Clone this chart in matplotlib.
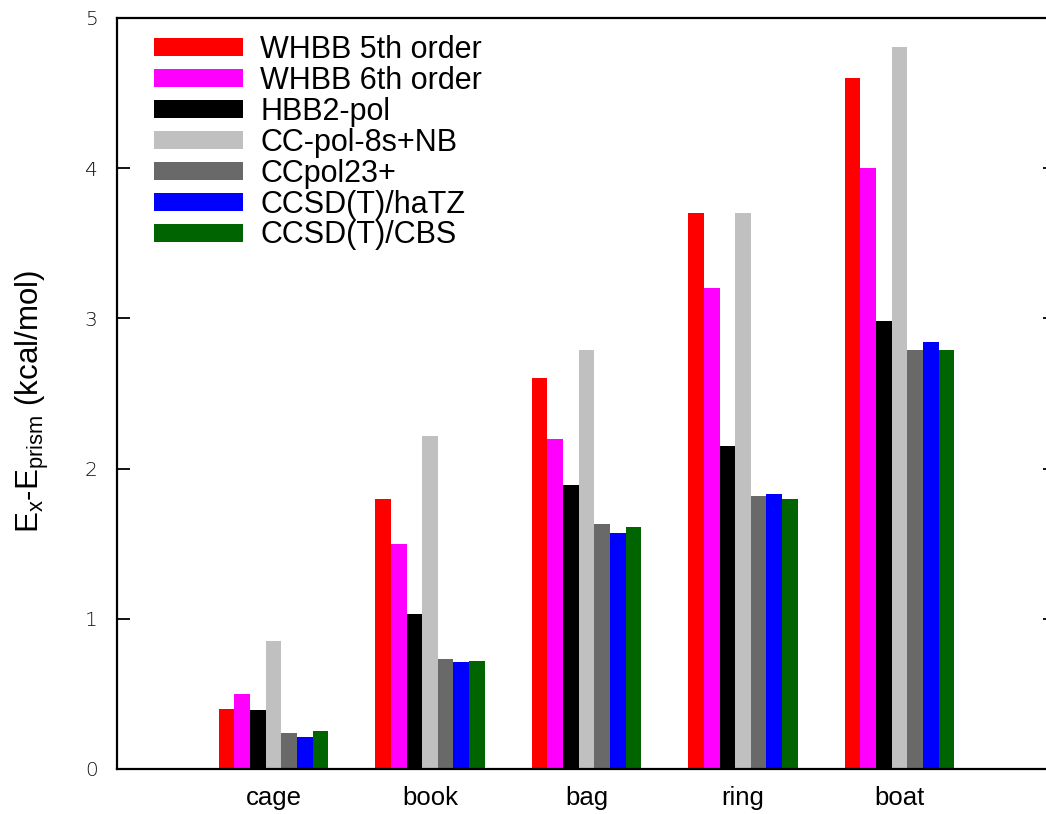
import matplotlib
matplotlib.use("Agg")
import matplotlib.pyplot as plt
import numpy as np

categories = ["cage", "book", "bag", "ring", "boat"]
series_names = ["WHBB 5th order", "WHBB 6th order", "HBB2-pol", "CC-pol-8s+NB",
                "CCpol23+", "CCSD(T)/haTZ", "CCSD(T)/CBS"]
whbb5 = [0.40, 1.80, 2.60, 3.70, 4.60]
whbb6 = [0.50, 1.50, 2.20, 3.20, 4.00]
hbb2pol = [0.39, 1.03, 1.89, 2.15, 2.98]
ccpol8s = [0.85, 2.22, 2.79, 3.70, 4.81]
ccpol23 = [0.24, 0.73, 1.63, 1.82, 2.79]
ccsdt_hatz = [0.21, 0.71, 1.57, 1.83, 2.84]
ccsdt_cbs = [0.25, 0.72, 1.61, 1.80, 2.79]
y_ticks = [0, 1, 2, 3, 4, 5]

series_values = [whbb5, whbb6, hbb2pol, ccpol8s, ccpol23, ccsdt_hatz, ccsdt_cbs]
colors = ["#ff0000", "#ff00ff", "#000000", "#c0c0c0", "#696969", "#0000ff", "#006400"]

plt.rcParams['font.family'] = ['Liberation Sans', 'DejaVu Sans']
plt.rcParams['mathtext.fontset'] = 'custom'
plt.rcParams['mathtext.rm'] = 'Liberation Sans'
plt.rcParams['mathtext.it'] = 'Liberation Sans'

fig = plt.figure(figsize=(10.46, 8.14), dpi=100)
W, H = 1046, 814
ax = fig.add_axes([117 / W, (H - 769) / H, 939 / W, (769 - 18) / H])

x = np.arange(1, len(categories) + 1)
bw = 0.1
for i, (name, vals, c) in enumerate(zip(series_names, series_values, colors)):
    ax.bar(x + (i - 3) * bw, vals, width=bw, color=c, label=name, linewidth=0)

ax.set_xlim(0, 6)
ax.set_ylim(0, 5)
ax.set_xticks(x)
ax.set_xticklabels(categories, fontsize=18.5)
ax.tick_params(axis='x', length=0, pad=12)
ax.set_yticks(y_ticks)
ax.set_yticklabels([str(t) for t in y_ticks], fontsize=14.5,
                   family='DejaVu Sans', fontweight='light', color='#111111')
ax.tick_params(axis='y', direction='in', length=9.5, width=1.3, right=True, pad=14)
for s in ax.spines.values():
    s.set_linewidth(1.6)

ax.set_ylabel(r'E$_\mathrm{x}$-E$_\mathrm{prism}$ (kcal/mol)', fontsize=22.5)
ax.yaxis.set_label_coords(-0.070, 0.49)

leg = ax.legend(loc='upper left', bbox_to_anchor=(37 / 939, 1 - 17 / 751),
                frameon=False, fontsize=22, handlelength=2.9, handleheight=0.52,
                handletextpad=0.58, labelspacing=0.03, borderpad=0, borderaxespad=0)

fig.savefig("out.png", dpi=100)
